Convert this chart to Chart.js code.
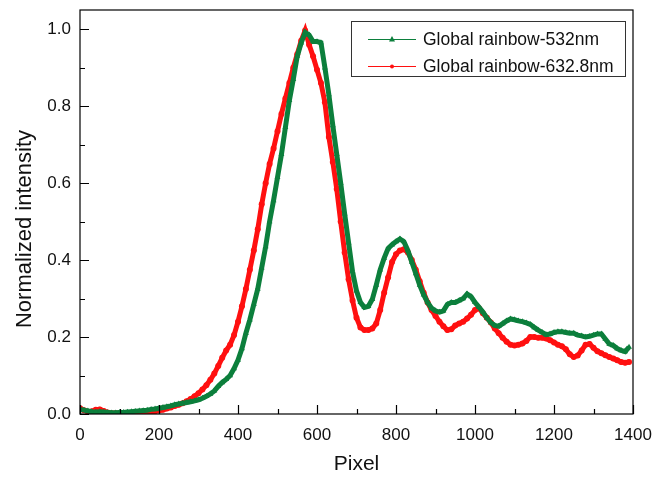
<!DOCTYPE html>
<html>
<head>
<meta charset="utf-8">
<script src="https://cdn.jsdelivr.net/npm/chart.js@4.4.1/dist/chart.umd.min.js"></script>
<style>
  html, body { margin: 0; padding: 0; background: #fff; }
  #wrap { width: 663px; height: 477px; }
</style>
</head>
<body>
<div id="wrap"><canvas id="rainbowChart" width="663" height="477"></canvas></div>
<script>
// pixel positions 0..1390, one reading every 10 px
const pixels = [];
for (let p = 0; p <= 1390; p += 10) pixels.push(p);

const green532 = [
  0.012, 0.010, 0.008, 0.006, 0.005, 0.006, 0.005, 0.004, 0.003, 0.003,
  0.004, 0.004, 0.005, 0.006, 0.007, 0.008, 0.009, 0.010, 0.012, 0.013,
  0.015, 0.017, 0.019, 0.021, 0.024, 0.026, 0.028, 0.030, 0.032, 0.034,
  0.037, 0.041, 0.046, 0.052, 0.060, 0.072, 0.082, 0.090, 0.100, 0.118,
  0.140, 0.170, 0.210, 0.245, 0.285, 0.325, 0.380, 0.435, 0.500, 0.555,
  0.615, 0.675, 0.745, 0.815, 0.870, 0.930, 0.965, 0.992, 0.985, 0.968,
  0.968, 0.965, 0.900, 0.830, 0.750, 0.675, 0.600, 0.520, 0.445, 0.370,
  0.320, 0.290, 0.277, 0.280, 0.298, 0.335, 0.375, 0.405, 0.430, 0.440,
  0.448, 0.455, 0.448, 0.425, 0.395, 0.365, 0.335, 0.310, 0.290, 0.275,
  0.268, 0.265, 0.268, 0.285, 0.290, 0.290, 0.295, 0.300, 0.312, 0.305,
  0.290, 0.278, 0.265, 0.250, 0.238, 0.230, 0.228, 0.235, 0.242, 0.247,
  0.245, 0.242, 0.240, 0.237, 0.233, 0.225, 0.218, 0.212, 0.206, 0.208,
  0.212, 0.214, 0.214, 0.212, 0.210, 0.210, 0.205, 0.203, 0.200, 0.202,
  0.205, 0.208, 0.208, 0.195, 0.182, 0.178, 0.170, 0.165, 0.162, 0.174
];

const red632 = [
  0.015, 0.010, 0.006, 0.007, 0.011, 0.012, 0.008, 0.004, 0.002, 0.002,
  0.002, 0.002, 0.002, 0.002, 0.002, 0.002, 0.003, 0.004, 0.005, 0.007,
  0.009, 0.011, 0.014, 0.017, 0.021, 0.024, 0.028, 0.033, 0.039, 0.046,
  0.054, 0.064, 0.075, 0.089, 0.105, 0.125, 0.146, 0.165, 0.180, 0.205,
  0.240, 0.280, 0.325, 0.375, 0.425, 0.480, 0.545, 0.600, 0.650, 0.690,
  0.735, 0.780, 0.820, 0.860, 0.900, 0.935, 0.970, 0.997, 0.960, 0.930,
  0.895, 0.860, 0.810, 0.720, 0.655, 0.585, 0.500, 0.420, 0.350, 0.295,
  0.250, 0.225, 0.218, 0.218, 0.222, 0.235, 0.270, 0.315, 0.355, 0.395,
  0.415, 0.425, 0.428, 0.420, 0.400, 0.375, 0.345, 0.315, 0.290, 0.270,
  0.255, 0.240, 0.228, 0.218, 0.220, 0.230, 0.235, 0.240, 0.248, 0.258,
  0.270, 0.275, 0.262, 0.250, 0.238, 0.222, 0.210, 0.198, 0.188, 0.180,
  0.178, 0.180, 0.183, 0.190, 0.200, 0.200, 0.198, 0.198, 0.196, 0.192,
  0.186, 0.180, 0.176, 0.168, 0.155, 0.148, 0.152, 0.165, 0.180, 0.182,
  0.172, 0.163, 0.158, 0.153, 0.148, 0.144, 0.140, 0.135, 0.133, 0.135
];

const xTicks = [0, 200, 400, 600, 800, 1000, 1200, 1400];
const yTicks = [0.0, 0.2, 0.4, 0.6, 0.8, 1.0];

const greenColor = '#0c7f3c';
const redColor = '#ff1010';
const fontFamily = "'Liberation Sans', Arial, sans-serif";

function toPoints(values) {
  return values.map((v, i) => ({ x: pixels[i], y: v }));
}

// frame, inward ticks and the rotated y title
const framePlugin = {
  id: 'frame',
  afterDraw(chart) {
    const { ctx, chartArea: a, scales } = chart;
    ctx.save();
    ctx.strokeStyle = '#000';
    ctx.lineWidth = 1.2;
    ctx.strokeRect(a.left, a.top, a.right - a.left, a.bottom - a.top);
    ctx.beginPath();
    for (let v = 0; v <= 1400; v += 100) {
      const x = Math.round(scales.x.getPixelForValue(v)) + 0.5;
      const len = v % 200 === 0 ? 9 : 5;
      ctx.moveTo(x, a.bottom);
      ctx.lineTo(x, a.bottom - len);
    }
    for (let k = 0; k <= 10; k++) {
      const y = Math.round(scales.y.getPixelForValue(k / 10)) + 0.5;
      const len = k % 2 === 0 ? 9 : 5;
      ctx.moveTo(a.left, y);
      ctx.lineTo(a.left + len, y);
    }
    ctx.stroke();

    ctx.translate(24, 229);
    ctx.rotate(-Math.PI / 2);
    ctx.font = '22px ' + fontFamily;
    ctx.fillStyle = '#111';
    ctx.textAlign = 'center';
    ctx.textBaseline = 'middle';
    ctx.fillText('Normalized intensity', 0, 1);
    ctx.restore();
  }
};

// boxed legend in the upper right corner
const boxLegendPlugin = {
  id: 'boxLegend',
  afterDraw(chart) {
    const { ctx } = chart;
    const box = { left: 351, top: 21, width: 274, height: 55 };
    ctx.save();
    ctx.fillStyle = '#fff';
    ctx.fillRect(box.left, box.top, box.width, box.height);
    ctx.strokeStyle = '#333';
    ctx.lineWidth = 1;
    ctx.strokeRect(box.left + 0.5, box.top + 0.5, box.width, box.height);
    ctx.font = '17.5px ' + fontFamily;
    ctx.textBaseline = 'middle';
    chart.data.datasets.forEach((ds, i) => {
      const y = box.top + 18 + i * 27;
      ctx.strokeStyle = ds.borderColor;
      ctx.lineWidth = 1;
      ctx.beginPath();
      ctx.moveTo(368, y + 0.5);
      ctx.lineTo(416, y + 0.5);
      ctx.stroke();
      ctx.fillStyle = ds.borderColor;
      ctx.beginPath();
      if (ds.pointStyle === 'triangle') {
        ctx.moveTo(392, y - 3);
        ctx.lineTo(395, y + 2.5);
        ctx.lineTo(389, y + 2.5);
        ctx.closePath();
      } else {
        ctx.arc(392, y + 0.5, 2, 0, Math.PI * 2);
      }
      ctx.fill();
      ctx.fillStyle = '#111';
      ctx.fillText(ds.label, 423, y + 1);
    });
    ctx.restore();
  }
};

new Chart(document.getElementById('rainbowChart').getContext('2d'), {
  type: 'line',
  data: {
    datasets: [
      {
        label: 'Global rainbow-532nm',
        data: toPoints(green532),
        borderColor: greenColor,
        backgroundColor: greenColor,
        borderWidth: 5,
        pointStyle: 'triangle',
        pointRadius: 3.4,
        pointBorderWidth: 0,
        tension: 0
      },
      {
        label: 'Global rainbow-632.8nm',
        data: toPoints(red632),
        borderColor: redColor,
        backgroundColor: redColor,
        borderWidth: 5,
        pointStyle: 'circle',
        pointRadius: 3,
        pointBorderWidth: 0,
        tension: 0
      }
    ]
  },
  options: {
    responsive: false,
    animation: false,
    layout: { padding: { left: 0, top: 10, right: 30, bottom: 0 } },
    plugins: {
      legend: { display: false },
      tooltip: { enabled: false }
    },
    scales: {
      x: {
        type: 'linear',
        min: 0,
        max: 1400,
        grid: { display: false, drawTicks: false },
        border: { display: false },
        afterBuildTicks: (scale) => { scale.ticks = xTicks.map(v => ({ value: v })); },
        ticks: {
          color: '#111',
          padding: 11,
          maxRotation: 0,
          font: { family: fontFamily, size: 17 },
          callback: (v) => String(v)
        },
        title: {
          display: true,
          text: 'Pixel',
          color: '#111',
          padding: { top: 0, bottom: 0 },
          font: { family: fontFamily, size: 21 }
        },
        afterFit: (scale) => { scale.height = 63; }
      },
      y: {
        min: 0,
        max: 1.05,
        grid: { display: false, drawTicks: false },
        border: { display: false },
        afterBuildTicks: (scale) => { scale.ticks = yTicks.map(v => ({ value: v })); },
        ticks: {
          color: '#111',
          padding: 9,
          font: { family: fontFamily, size: 17 },
          callback: (v) => Number(v).toFixed(1)
        },
        afterFit: (scale) => {
          scale.width = 80;
          scale.paddingTop = 0;
          scale.paddingBottom = 0;
        }
      }
    }
  },
  plugins: [framePlugin, boxLegendPlugin]
});
</script>
</body>
</html>
